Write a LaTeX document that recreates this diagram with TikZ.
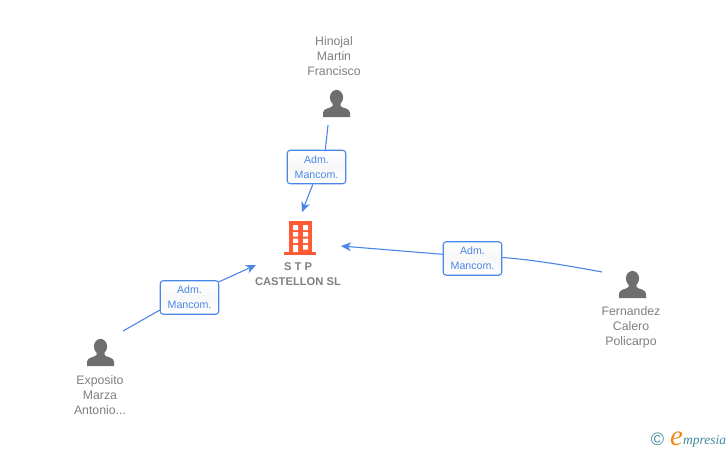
\documentclass[tikz,border=0pt]{standalone}
\usepackage{fontspec}
\setmainfont{Liberation Sans}
\newfontfamily\logofont{Liberation Serif}
\usetikzlibrary{arrows.meta}
\definecolor{linkblue}{HTML}{4A86E8}
\definecolor{txtgray}{HTML}{808080}
\definecolor{icongray}{HTML}{6E6E6E}
\definecolor{bldorange}{HTML}{FF5A33}
\definecolor{logoteal}{HTML}{3F8A9E}
\definecolor{logoorange}{HTML}{F08A1D}
\tikzset{
  x=1pt,y=-1pt,
  rolebox/.style={draw=linkblue,line width=1.1pt,rounded corners=3pt,top color=white,bottom color=white,middle color=gray!6,
    minimum width=58.5pt,minimum height=33.5pt,inner sep=0pt,align=center,text=linkblue,font=\fontsize{10.6pt}{15pt}\selectfont},
  personlabel/.style={align=center,text=txtgray,inner sep=0pt,font=\fontsize{12.3pt}{15pt}\selectfont},
  firmlabel/.style={align=center,text=txtgray,inner sep=0pt,font=\bfseries\fontsize{11.2pt}{15pt}\selectfont},
  link/.style={draw=linkblue,line width=1.1pt},
  arrowlink/.style={link,-{Stealth[length=10pt,width=9pt,inset=3pt]}},
  person/.pic={
    \fill[icongray] (0,0) ellipse[x radius=6.6,y radius=7.6];
    \fill[icongray] (-4,4) -- (-4,8.5) .. controls (-6,11) and (-13,10.5) .. (-13.5,15) -- (-13.5,19.5) -- (13.5,19.5) -- (13.5,15) .. controls (13,10.5) and (6,11) .. (4,8.5) -- (4,4) -- cycle;
  }
}
\begin{document}
\begin{tikzpicture}
\useasboundingbox (0,0) rectangle (728,450);
\fill[white] (0,0) rectangle (728,450);
% building
\fill[bldorange] (289,221) rectangle (312,253);
\fill[bldorange] (284,252) rectangle (316,255);
\fill[white] (293,225) rectangle (298,230) (303,225) rectangle (308,230)
  (293,232) rectangle (298,236.5) (303,232) rectangle (308,236.5)
  (293,238.5) rectangle (298,243) (303,238.5) rectangle (308,243)
  (293,245) rectangle (298,252) (303,245) rectangle (308,249.5);
% persons
\pic at (336.5,97.5) {person};
\pic at (100.5,346.5) {person};
\pic at (632.5,278.5) {person};
% labels
\node[personlabel] (hinojal) at (334,56) {Hinojal\\Martin\\Francisco};
\node[personlabel] (exposito) at (100,395) {Exposito\\Marza\\Antonio...};
\node[personlabel] (fernandez) at (631,327) {Fernandez\\Calero\\Policarpo};
\node[firmlabel] (firm) at (298,274.5) {S T P\\CASTELLON SL};
% role boxes
\node[rolebox] (boxtop) at (316.5,167) {Adm.\\Mancom.};
\node[rolebox] (boxleft) at (189.5,297.5) {Adm.\\Mancom.};
\node[rolebox] (boxright) at (472.5,258.5) {Adm.\\Mancom.};
% connector ends
\coordinate (topstart) at (328,125);
\coordinate (topend) at (302,212);
\coordinate (leftstart) at (123,331);
\coordinate (leftend) at (256,265);
\coordinate (rightstart) at (602,272);
\coordinate (rightend) at (341,246);
% connectors
\draw[link] (topstart) -- (boxtop.63);
\draw[arrowlink] (boxtop.258) -- (topend);
\draw[link] (leftstart) -- (boxleft.203);
\draw[arrowlink] (boxleft.28) -- (leftend);
\draw[link] (rightstart) .. controls (570,266) and (535,260) .. (boxright.2);
\draw[arrowlink] (boxright.172) -- (rightend);
% logo
\node[text=logoteal,inner sep=0pt,font=\fontsize{18pt}{18pt}\selectfont] (copy) at (657.5,439) {©};
\node[text=logoorange,inner sep=0pt,anchor=base west,font=\logofont\itshape\fontsize{29pt}{29pt}\selectfont] (logoe) at (670,445) {e};
\node[text=logoteal,inner sep=0pt,anchor=base west,font=\logofont\itshape\fontsize{13.5pt}{14pt}\selectfont] (logotext) at (683,444) {mpresia};
\end{tikzpicture}
\end{document}
